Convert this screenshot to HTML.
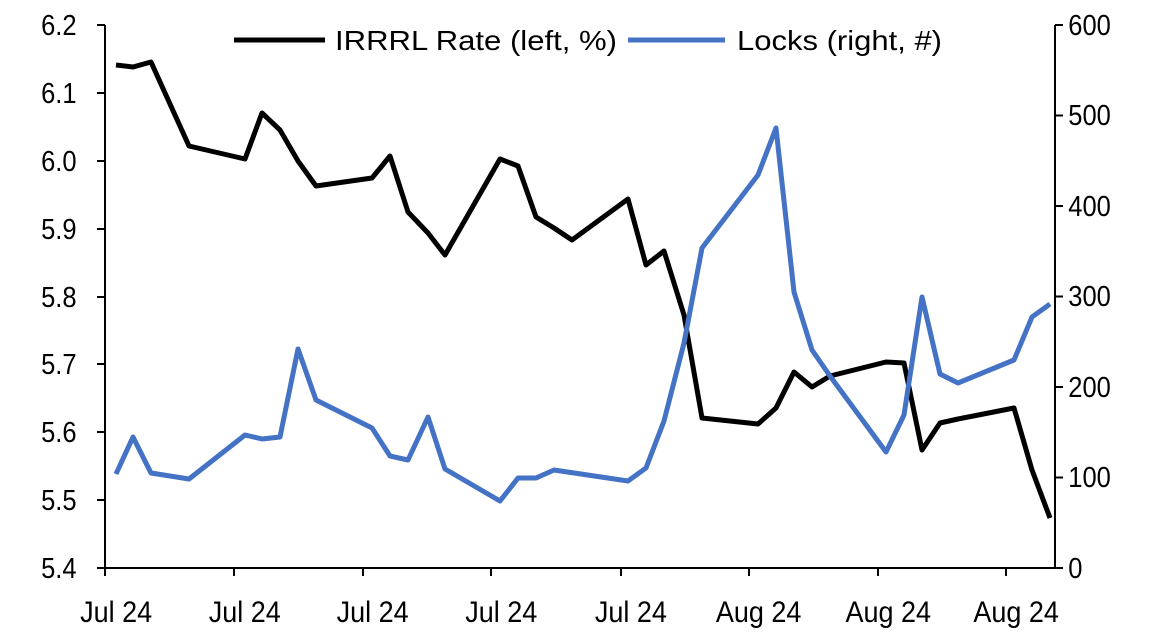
<!DOCTYPE html>
<html><head><meta charset="utf-8"><style>
body{margin:0;background:#fff;}
svg{display:block;font-family:"Liberation Sans",Arial,sans-serif;}
</style></head><body>
<svg width="1157" height="643" viewBox="0 0 1157 643">
<g stroke="#000" stroke-width="2" fill="none">
<line x1="105" y1="25" x2="105" y2="568"/>
<line x1="1055" y1="25" x2="1055" y2="568"/>
<line x1="105" y1="568" x2="1055" y2="568"/>
<path d="M97 25H105M97 93H105M97 161H105M97 229H105M97 297H105M97 364H105M97 432H105M97 500H105M97 568H105"/>
<path d="M1055 25H1063M1055 115.5H1063M1055 206H1063M1055 296.5H1063M1055 387H1063M1055 477.5H1063M1055 568H1063"/>
<path d="M105 568V576M234 568V576M363 568V576M491 568V576M621 568V576M749 568V576M878 568V576M1006 568V576"/>
</g>
<g font-size="29" fill="#000" text-anchor="end" transform="scale(0.88,1)">
<text x="87" y="35">6.2</text><text x="87" y="103">6.1</text><text x="87" y="171">6.0</text><text x="87" y="239">5.9</text><text x="87" y="307">5.8</text><text x="87" y="374">5.7</text><text x="87" y="442">5.6</text><text x="87" y="510">5.5</text><text x="87" y="578">5.4</text>
</g>
<g font-size="29" fill="#000" text-anchor="start" transform="scale(0.88,1)">
<text x="1214" y="35">600</text><text x="1214" y="125">500</text><text x="1214" y="216">400</text><text x="1214" y="306">300</text><text x="1214" y="397">200</text><text x="1214" y="487">100</text><text x="1214" y="578">0</text>
</g>
<g font-size="30" fill="#000" text-anchor="middle" transform="scale(0.9,1)">
<text x="129" y="622">Jul 24</text><text x="272" y="622">Jul 24</text><text x="414" y="622">Jul 24</text><text x="557" y="622">Jul 24</text><text x="701" y="622">Jul 24</text><text x="843" y="622">Aug 24</text><text x="987" y="622">Aug 24</text><text x="1129" y="622">Aug 24</text>
</g>
<polyline fill="none" stroke="#000" stroke-width="5" stroke-linejoin="round" points="116,65 133,67 151,62 189,146 245,159 262,113 280,130 298,161 316,186 372,178 390,156 408,212 428,233 445,255 500,159 518,166 536,217 554,228 572,240 628,199 646,265 664,251 684,315 702,418 758,424 776,408 794,372 812,387 830,376 886,362 904,363 922,450 940,423 958,419 1014,408 1032,470 1050,518"/>
<polyline fill="none" stroke="#4472C4" stroke-width="5" stroke-linejoin="round" points="116,474 133,437 151,473 189,479 245,435 262,439 280,437 298,349 316,400 372,428 390,456 408,460 428,417 445,469 500,501 518,478 536,478 554,470 628,481 646,468 664,421 684,343 702,248 758,175 776,128 794,292 812,350 830,376 886,452 904,415 922,297 940,374 958,383 1014,360 1032,317 1050,304"/>
<line x1="234" y1="40" x2="325" y2="40" stroke="#000" stroke-width="5"/>
<text x="335" y="50" font-size="28" textLength="282" lengthAdjust="spacingAndGlyphs">IRRRL Rate (left, %)</text>
<line x1="628" y1="40" x2="725" y2="40" stroke="#4472C4" stroke-width="5"/>
<text x="737" y="50" font-size="28" textLength="205" lengthAdjust="spacingAndGlyphs">Locks (right, #)</text>
</svg>
</body></html>
